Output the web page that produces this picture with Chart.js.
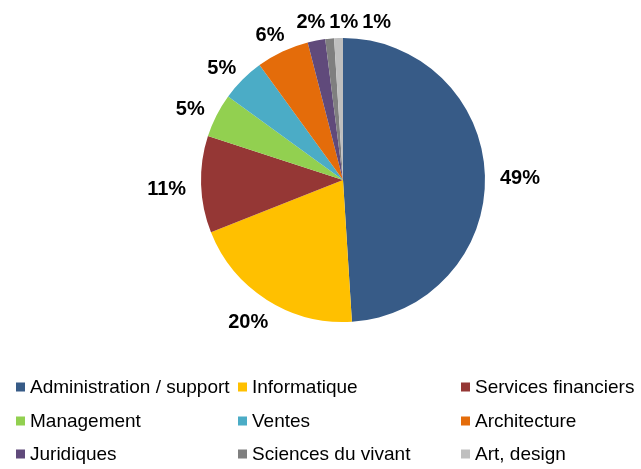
<!DOCTYPE html>
<html>
<head>
<meta charset="utf-8">
<script src="https://cdn.jsdelivr.net/npm/chart.js@4"></script>
<style>
  html, body { margin: 0; padding: 0; background: #fff; }
  #wrap { width: 641px; height: 469px; }
</style>
</head>
<body>
<div id="wrap"><canvas id="pieChart" width="641" height="469"></canvas></div>
<script>
const categories = ['Administration / support', 'Informatique', 'Services financiers',
    'Management', 'Ventes', 'Architecture', 'Juridiques', 'Sciences du vivant', 'Art, design'];
const shares = [49, 20, 11, 5, 5, 6, 2, 1, 1];
const colors = ['#375B87', '#FFC000', '#953735', '#92D050', '#4BACC6', '#E46C0A', '#604A7B', '#7F7F7F', '#BFBFBF'];

// percentage labels outside the slices, pushed apart when they collide
const outsideLabels = {
    id: 'outsideLabels',
    afterDatasetsDraw(chart) {
        const ctx = chart.ctx;
        const meta = chart.getDatasetMeta(0);
        const total = shares.reduce((a, b) => a + b, 0);
        ctx.save();
        ctx.font = 'bold 20px "Liberation Sans", Arial, sans-serif';
        ctx.fillStyle = '#000';
        ctx.textAlign = 'center';
        ctx.textBaseline = 'middle';
        const placed = [];
        meta.data.forEach((arc, i) => {
            const p = arc.getProps(['x', 'y', 'startAngle', 'endAngle', 'outerRadius'], true);
            const mid = (p.startAngle + p.endAngle) / 2;
            const dx = Math.cos(mid), dy = Math.sin(mid);
            const text = Math.round(shares[i] / total * 100) + '%';
            const w = ctx.measureText(text).width;
            const h = 14, gap = 15;
            let cx = p.x + dx * (p.outerRadius + gap) + dx * w / 2;
            let cy = p.y + dy * (p.outerRadius + gap) + dy * h / 2 + 4;
            cy = Math.max(cy, 22);
            placed.forEach(b => {
                if (Math.abs(cy - b.y) < h + 4 && cx - w / 2 < b.x + b.w / 2 + 4 && cx + w / 2 > b.x - b.w / 2 - 4) {
                    cx = b.x + b.w / 2 + 4 + w / 2;
                }
            });
            placed.push({ x: cx, y: cy, w: w });
            ctx.fillText(text, cx, cy);
        });
        ctx.restore();
    }
};

// three-column legend under the pie
const gridLegend = {
    id: 'gridLegend',
    afterDraw(chart) {
        const ctx = chart.ctx;
        const colX = [16, 238, 461];
        const rowY = [387, 421, 454];
        ctx.save();
        ctx.font = '19px "Liberation Sans", Arial, sans-serif';
        ctx.textBaseline = 'middle';
        ctx.textAlign = 'left';
        categories.forEach((name, i) => {
            const x = colX[i % 3], y = rowY[Math.floor(i / 3)];
            ctx.fillStyle = colors[i];
            ctx.fillRect(x, y - 4.5, 9, 9);
            ctx.fillStyle = '#000';
            ctx.fillText(name, x + 14, y + 1);
        });
        ctx.restore();
    }
};

new Chart(document.getElementById('pieChart').getContext('2d'), {
    type: 'pie',
    data: {
        labels: categories,
        datasets: [{
            data: shares,
            backgroundColor: colors,
            borderWidth: 0
        }]
    },
    options: {
        responsive: false,
        animation: false,
        layout: { padding: { left: 201, right: 156, top: 38, bottom: 147 } },
        plugins: {
            legend: { display: false },
            tooltip: { enabled: false }
        }
    },
    plugins: [outsideLabels, gridLegend]
});
</script>
</body>
</html>
